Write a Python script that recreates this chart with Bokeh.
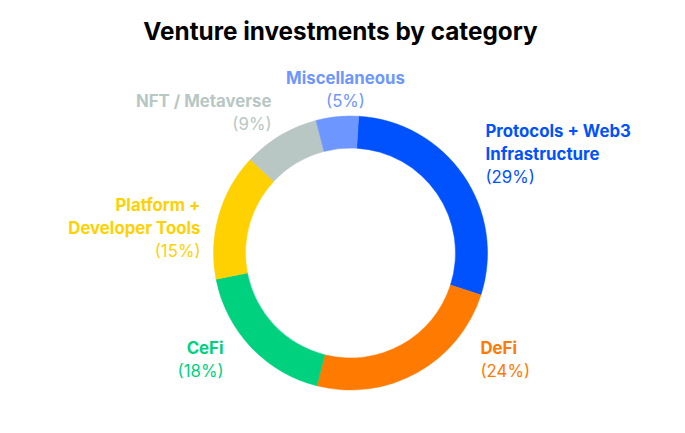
import numpy as np
from bokeh.plotting import figure
from bokeh.models import ColumnDataSource, Range1d
from bokeh.core.properties import value
from bokeh.embed import file_html
from bokeh.resources import INLINE

# Data
categories = ["Protocols + Web3\nInfrastructure", "DeFi", "CeFi",
              "Platform +\nDeveloper Tools", "NFT / Metaverse", "Miscellaneous"]
shares = [29, 24, 18, 15, 9, 5]
pct_labels = ["(29%)", "(24%)", "(18%)", "(15%)", "(9%)", "(5%)"]
colors = ["#0052FF", "#FF7A00", "#00D17F", "#FFD100", "#B8C7C3", "#6E96FF"]

W, H = 669, 417
p = figure(width=W, height=H, output_backend="svg", toolbar_location=None,
           x_range=Range1d(0, W), y_range=Range1d(0, H), min_border=0)
p.axis.visible = False
p.grid.visible = False
p.outline_line_color = None
p.background_fill_color = "white"

def px(X):
    return X
def py(Y):
    return H - Y

cx, cy = px(350), py(252.5)
offset = np.deg2rad(3.4)
frac = np.array(shares, dtype=float) / sum(shares)
cum = np.concatenate([[0], np.cumsum(frac)]) * 2 * np.pi
start = np.pi / 2 - offset - cum[:-1]
end = np.pi / 2 - offset - cum[1:]

src = ColumnDataSource(dict(start=start, end=end, color=colors,
                            x=[cx] * len(shares), y=[cy] * len(shares)))
p.annular_wedge(x="x", y="y", inner_radius=105, outer_radius=137,
                inner_radius_units="screen", outer_radius_units="screen",
                start_angle="start", end_angle="end", direction="clock",
                fill_color="color", line_color="color", line_width=0.5, source=src)

# label layout: (x, y of first line, align)
layout = [
    (485, 130, "left"),
    (480, 347, "left"),
    (223, 347, "right"),
    (200, 204, "right"),
    (271, 100, "right"),
    (345, 77, "center"),
]
lh = 23
font = "Inter"
for name, pct, col, (X, Y, al) in zip(categories, pct_labels, colors, layout):
    lines = name.split("\n")
    for i, ln in enumerate(lines):
        p.text(x=[px(X)], y=[py(Y + i * lh)], text=[ln], text_color=col,
               text_font=value(font), text_font_style="bold",
               text_font_size="16.8px", text_align=al, text_baseline="middle")
    p.text(x=[px(X)], y=[py(Y + len(lines) * lh)], text=[pct], text_color=col,
           text_font=value(font), text_font_style="normal",
           text_font_size="16.8px", text_align=al, text_baseline="middle")

p.text(x=[px(340)], y=[py(30)], text=["Venture investments by category"],
       text_color="#000000", text_font=value(font), text_font_style="bold",
       text_font_size="24.3px", text_align="center", text_baseline="middle")

open("out.html", "w").write(file_html(p, INLINE))
